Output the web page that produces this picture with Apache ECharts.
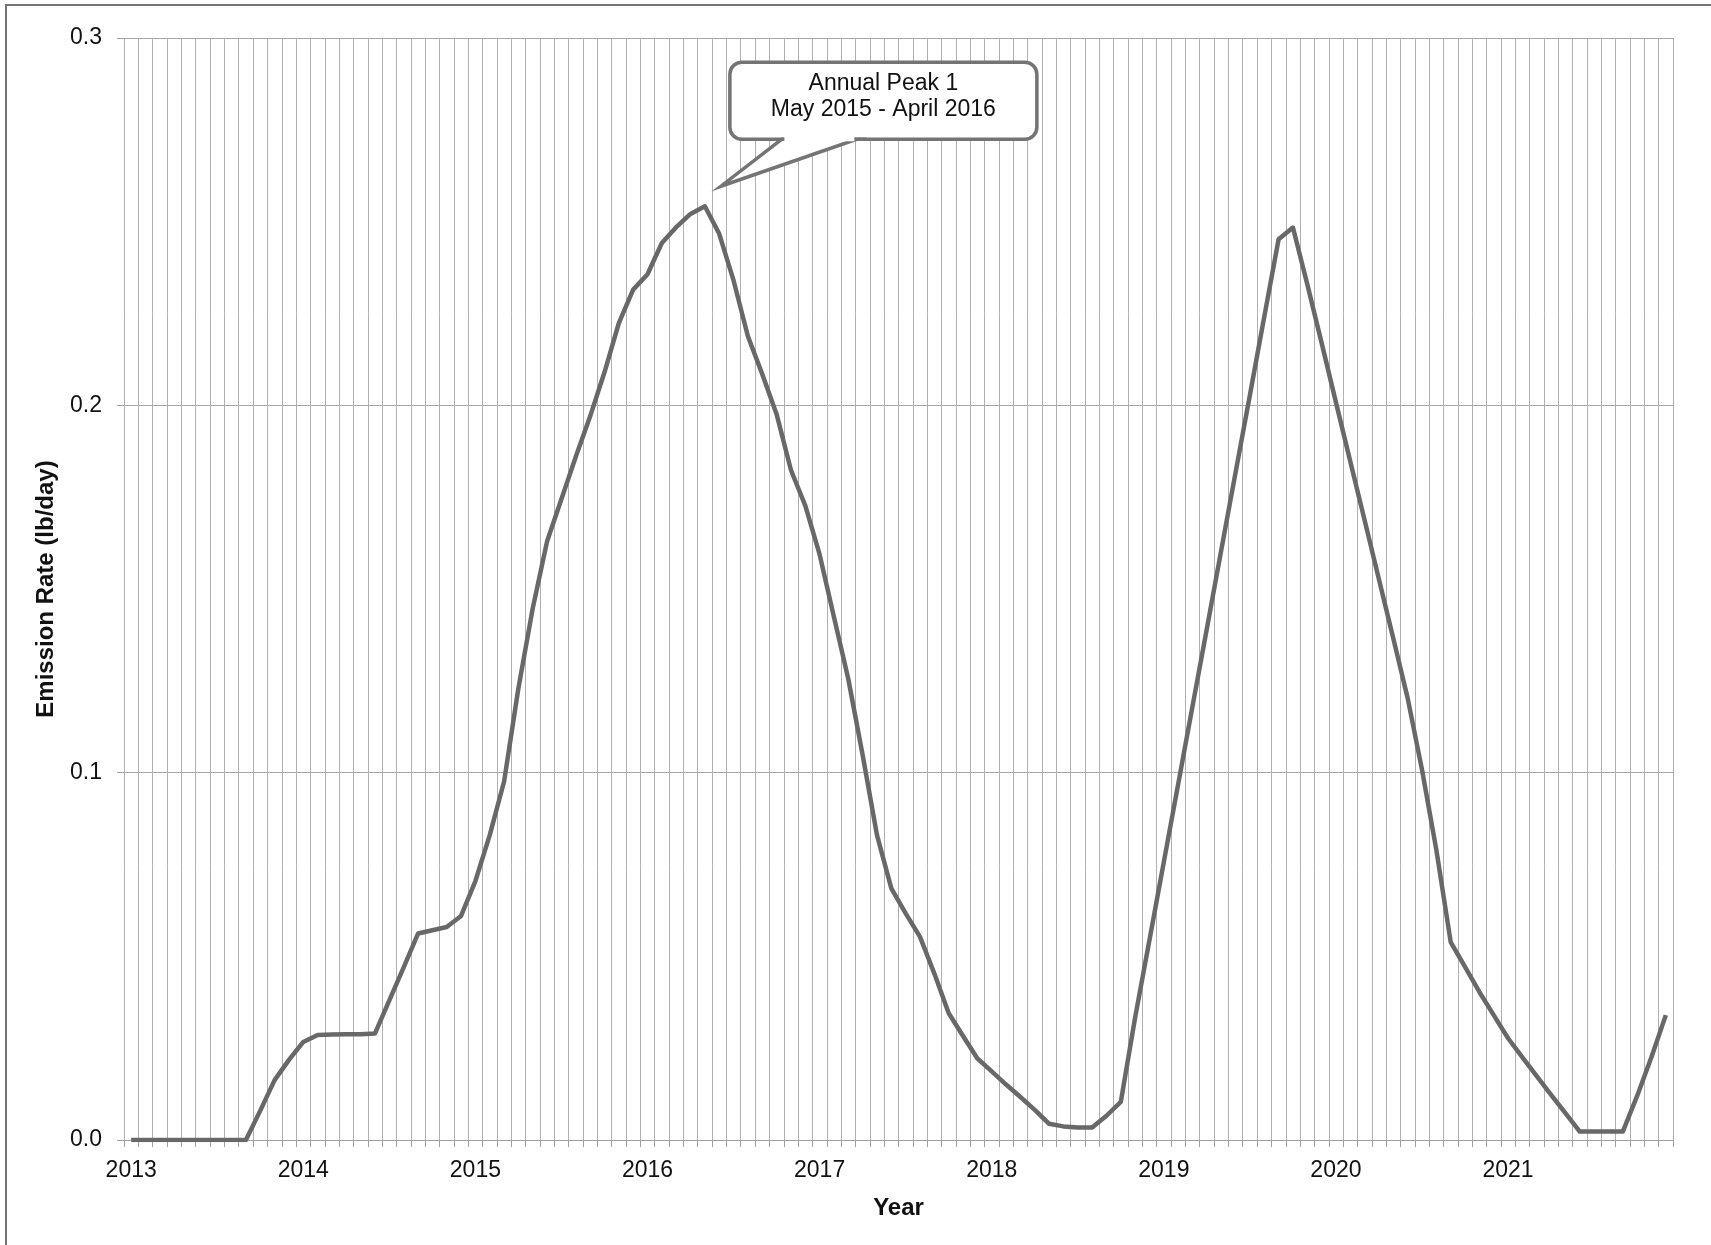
<!DOCTYPE html>
<html>
<head>
<meta charset="utf-8">
<script src="https://cdn.jsdelivr.net/npm/echarts@6/dist/echarts.min.js"></script>
<style>
html,body{margin:0;padding:0;background:#fff;}
#chart{width:1711px;height:1245px;}
</style>
</head>
<body>
<div id="chart"></div>
<script>
// ---- data ----
var years = ['2013','2014','2015','2016','2017','2018','2019','2020','2021'];
var months = ['Jan','Feb','Mar','Apr','May','Jun','Jul','Aug','Sep','Oct','Nov','Dec'];
var yTicks = [0, 0.1, 0.2, 0.3];
// monthly emission rate (lb/day), Jan 2013 .. Dec 2021
var emission2013 = [0,0,0,0,0,0,0,0,0,0.008,0.0163,0.0218];
var emission2014 = [0.0267,0.0286,0.0287,0.0288,0.0288,0.029,0.038,0.047,0.0562,0.0571,0.058,0.061];
var emission2015 = [0.0705,0.083,0.0976,0.123,0.1448,0.163,0.1745,0.186,0.197,0.209,0.2224,0.2315];
var emission2016 = [0.2357,0.2442,0.2485,0.2521,0.2542,0.2467,0.234,0.2188,0.2085,0.1976,0.1824,0.1727];
var emission2017 = [0.1594,0.1424,0.1255,0.1048,0.083,0.0685,0.0617,0.0553,0.0453,0.0345,0.0283,0.0222];
var emission2018 = [0.0187,0.0151,0.0117,0.0082,0.0044,0.0037,0.0034,0.0034,0.0066,0.0104,0.0334,0.0545];
var emission2019 = [0.0757,0.0969,0.1181,0.1392,0.1605,0.1817,0.2028,0.2241,0.2452,0.2484,0.233,0.217];
var emission2020 = [0.2008,0.1847,0.1687,0.1526,0.1365,0.1203,0.1008,0.079,0.0539,0.0471,0.0403,0.034];
var emission2021 = [0.0277,0.0225,0.0174,0.0123,0.0073,0.0023,0.0023,0.0023,0.0023,0.012,0.0226,0.034];
var calloutLines = ['Annual Peak 1', 'May 2015 - April 2016'];
var calloutAnchor = {index: 40, value: 0.2542};

// ---- build ----
var categories = [];
years.forEach(function(y){ months.forEach(function(m){ categories.push(m + ' ' + y); }); });
var emission = [].concat(emission2013, emission2014, emission2015, emission2016, emission2017,
  emission2018, emission2019, emission2020, emission2021);

var FONT = '"Liberation Sans", Arial, Helvetica, sans-serif';
var chart = echarts.init(document.getElementById('chart'), null, {renderer: 'canvas'});

chart.setOption({
  animation: false,
  backgroundColor: '#ffffff',
  grid: {left: 124, right: 38, top: 38, bottom: 105, containLabel: false},
  xAxis: {
    type: 'category',
    data: categories,
    boundaryGap: true,
    name: 'Year',
    nameLocation: 'middle',
    nameGap: 56,
    nameTextStyle: {fontFamily: FONT, fontSize: 24, fontWeight: 'bold', color: '#111'},
    axisLine: {show: true, lineStyle: {color: '#a0a0a0', width: 1}},
    axisTick: {show: true, interval: 0, length: 7, lineStyle: {color: '#a0a0a0'}},
    axisLabel: {
      interval: 11, margin: 19,
      fontFamily: FONT, fontSize: 23, color: '#111',
      formatter: function(v){ return v.split(' ')[1]; }
    },
    splitLine: {show: true, interval: 0, lineStyle: {color: '#b0b0b0', width: 1}}
  },
  yAxis: {
    type: 'value',
    min: 0, max: 0.3, interval: 0.1,
    name: 'Emission Rate (lb/day)',
    nameLocation: 'middle',
    nameRotate: 90,
    nameGap: 66,
    nameTextStyle: {fontFamily: FONT, fontSize: 24, fontWeight: 'bold', color: '#111'},
    axisLine: {show: false},
    axisTick: {show: true, length: 7, lineStyle: {color: '#a0a0a0'}},
    axisLabel: {
      margin: 22, fontFamily: FONT, fontSize: 23, color: '#111',
      formatter: function(v){ return yTicks.indexOf(+v.toFixed(1)) >= 0 ? v.toFixed(1) : ''; }
    },
    splitLine: {show: true, lineStyle: {color: '#a8a8a8', width: 1}}
  },
  series: [{
    type: 'line',
    data: emission,
    showSymbol: false,
    symbol: 'none',
    lineStyle: {color: '#686868', width: 4.5, join: 'round'},
    z: 3
  }]
});

// callout anchored to the peak data point
var p = chart.convertToPixel({xAxisIndex: 0, yAxisIndex: 0}, [calloutAnchor.index, calloutAnchor.value]);
var ax = p[0] + 12, ay = p[1] - 20;
var tx = ax + 4, ty = ay;
var L = ax + 13, R = ax + 320, T = ay - 124, B = ay - 47;
var b1 = ax + 65, b2 = ax + 140;
var STROKE = '#747474';

chart.setOption({
  graphic: [
    {
      type: 'rect', z: 100, silent: true,
      shape: {x: 6, y: 5, width: 1760, height: 1300},
      style: {fill: 'none', stroke: STROKE, lineWidth: 2}
    },
    {
      type: 'rect', z: 100, silent: true,
      shape: {x: L, y: T, width: R - L, height: B - T, r: 12},
      style: {fill: '#ffffff', stroke: STROKE, lineWidth: 3.5}
    },
    {
      type: 'polygon', z: 101, silent: true,
      shape: {points: [[b1, B], [tx, ty], [b2, B]]},
      style: {fill: '#ffffff', stroke: STROKE, lineWidth: 3.5, lineJoin: 'miter'}
    },
    {
      type: 'rect', z: 102, silent: true,
      shape: {x: b1 + 2.5, y: B - 3, width: b2 - b1 - 5, height: 5},
      style: {fill: '#ffffff'}
    },
    {
      type: 'text', z: 103, silent: true,
      x: (L + R) / 2, y: (T + B) / 2 - 4,
      style: {
        text: calloutLines.join('\n'),
        fontFamily: FONT, fontSize: 23, lineHeight: 26,
        fill: '#111', align: 'center', verticalAlign: 'middle'
      }
    }
  ]
});
</script>
</body>
</html>
